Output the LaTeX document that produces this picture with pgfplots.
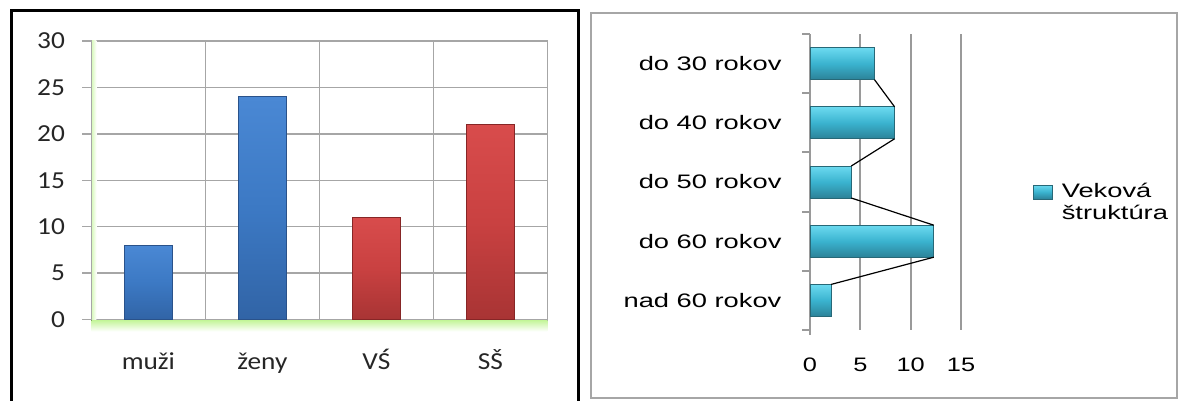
\documentclass[border=0pt]{standalone}
\usepackage{pgfplots}
\pgfplotsset{compat=1.18}
\usepackage{fontspec}
\setmainfont{Carlito}
\newfontfamily\arialf{Liberation Sans}

\definecolor{gridc}{HTML}{A6A6A6}
\definecolor{gridc2}{HTML}{9A9A9A}
\definecolor{greenG}{HTML}{C4F59A}
\definecolor{blueT}{HTML}{4A88D4}
\definecolor{blueM}{HTML}{3C79C4}
\definecolor{blueB}{HTML}{3164A6}
\definecolor{blueE}{HTML}{2A528A}
\definecolor{redT}{HTML}{D84C4C}
\definecolor{redM}{HTML}{C94141}
\definecolor{redB}{HTML}{A83434}
\definecolor{redE}{HTML}{862626}
\definecolor{cyanT}{HTML}{6CDAF0}
\definecolor{cyanM}{HTML}{3AB3CF}
\definecolor{cyanB}{HTML}{2C8298}
\definecolor{cyanE}{HTML}{276877}

\pgfplotsset{
  bluebar/.style={ybar, bar width=24pt, draw=blueE, line width=0.4pt, top color=blueT, bottom color=blueB, middle color=blueM},
  redbar/.style={ybar, bar width=24pt, draw=redE, line width=0.4pt, top color=redT, bottom color=redB, middle color=redM},
  cyanbar/.style={xbar, bar width=16pt, draw=cyanE, line width=0.4pt, top color=cyanT, bottom color=cyanB, middle color=cyanM},
}

\begin{document}
\begin{tikzpicture}
\useasboundingbox (0,0) rectangle (589pt,200.5pt);
% frames
\draw[line width=1.5pt] (5.5pt,-5pt) -- (5.5pt,195pt) -- (289.25pt,195pt) -- (289.25pt,-5pt);
\draw[gridc, line width=1pt] (295.5pt,1.5pt) rectangle (588.3pt,194pt);

% ---------- left chart ----------
\begin{axis}[
  at={(45.7pt,40.75pt)}, anchor=south west, scale only axis,
  width=228pt, height=139.25pt,
  xmin=-0.5, xmax=3.5, ymin=0, ymax=30,
  clip=false,
  xtick={0,1,2,3}, xticklabels={muži,ženy,VŚ,SŠ},
  minor xtick={-0.5,0.5,1.5,2.5,3.5},
  ytick={0,5,...,30},
  ymajorgrids, xminorgrids,
  grid style={draw=gridc, line width=0.7pt},
  minor grid style={draw=gridc, line width=0.7pt},
  axis line style={draw=gridc, line width=0.7pt},
  tick style={draw=gridc, line width=0.7pt},
  major x tick style={draw=none},
  tick align=outside,
  major tick length=4.5pt, minor tick length=4.5pt,
  xtick pos=lower, ytick pos=left,
  /pgf/number format/assume math mode=true,
  ticklabel style={font=\fontsize{12.2pt}{14pt}\selectfont, text=black!85, inner sep=0pt},
  yticklabel style={anchor=east, xshift=-8.5pt, xscale=1.12},
  xticklabel style={anchor=base, yshift=-20.75pt, xscale=1.12},
]
\fill[top color=greenG, bottom color=white] ([yshift=-0.4pt]rel axis cs:0,0) rectangle ([yshift=-6pt]rel axis cs:1,0);
\fill[left color=greenG!60, right color=white] ([xshift=0.4pt]rel axis cs:0,0) rectangle ([xshift=2.5pt]rel axis cs:0,1);
\addplot[bluebar] coordinates {(0,8)};
\addplot[bluebar] coordinates {(1,24)};
\addplot[redbar] coordinates {(2,11)};
\addplot[redbar] coordinates {(3,21)};
\end{axis}

% ---------- right chart ----------
\begin{axis}[
  at={(405pt,35.5pt)}, anchor=south west, scale only axis,
  width=75.5pt, height=148pt,
  xmin=0, xmax=15, ymin=-0.5, ymax=4.5,
  clip=false,
  xtick={0,5,10,15}, ytick={0,1,2,3,4},
  yticklabels={nad 60 rokov,do 60 rokov,do 50 rokov,do 40 rokov,do 30 rokov},
  minor ytick={-0.5,0.5,1.5,2.5,3.5,4.5},
  xmajorgrids,
  grid style={draw=gridc2, line width=1pt},
  axis line style={draw=none},
  major tick length=0pt, minor tick length=4pt,
  tick align=outside,
  minor tick style={draw=gridc2, line width=1pt},
  xtick pos=lower, ytick pos=left,
  /pgf/number format/assume math mode=true,
  ticklabel style={font=\arialf\fontsize{9.75pt}{11pt}\selectfont, inner sep=0pt, text=black},
  yticklabel style={anchor=east, xshift=-14pt, xscale=1.4},
  xticklabel style={anchor=center, yshift=-17.5pt, xscale=1.3},
  legend image code/.code={\shade[top color=cyanT, bottom color=cyanB, middle color=cyanM, draw=cyanE, line width=0.4pt] (0pt,-1pt) rectangle (9.5pt,-8pt);},
  legend style={at={(axis description cs:1.4768,0.4966)}, anchor=north west, draw=none, fill=none, inner sep=0pt, outer sep=0pt, column sep=4.5pt,
    nodes={font=\arialf\fontsize{9.75pt}{11pt}\selectfont, align=left, anchor=north west, inner sep=0pt, xscale=1.4}},
]
\draw[gridc2, line width=1pt] ([yshift=-2.5pt]rel axis cs:0,0) -- (rel axis cs:0,1);
\addplot[cyanbar] coordinates {(6.4,4)};
\addlegendentry{Veková\\štruktúra}
\addplot[cyanbar, forget plot] coordinates {(8.4,3)};
\addplot[cyanbar, forget plot] coordinates {(4.1,2)};
\addplot[cyanbar, forget plot] coordinates {(12.3,1)};
\addplot[cyanbar, forget plot] coordinates {(2.1,0)};
\addplot[black, line width=0.6pt, forget plot] coordinates {(6.4,3.73) (8.4,3.27)};
\addplot[black, line width=0.6pt, forget plot] coordinates {(8.4,2.73) (4.1,2.27)};
\addplot[black, line width=0.6pt, forget plot] coordinates {(4.1,1.73) (12.3,1.27)};
\addplot[black, line width=0.6pt, forget plot] coordinates {(12.3,0.73) (2.1,0.27)};
\end{axis}
\end{tikzpicture}
\end{document}
